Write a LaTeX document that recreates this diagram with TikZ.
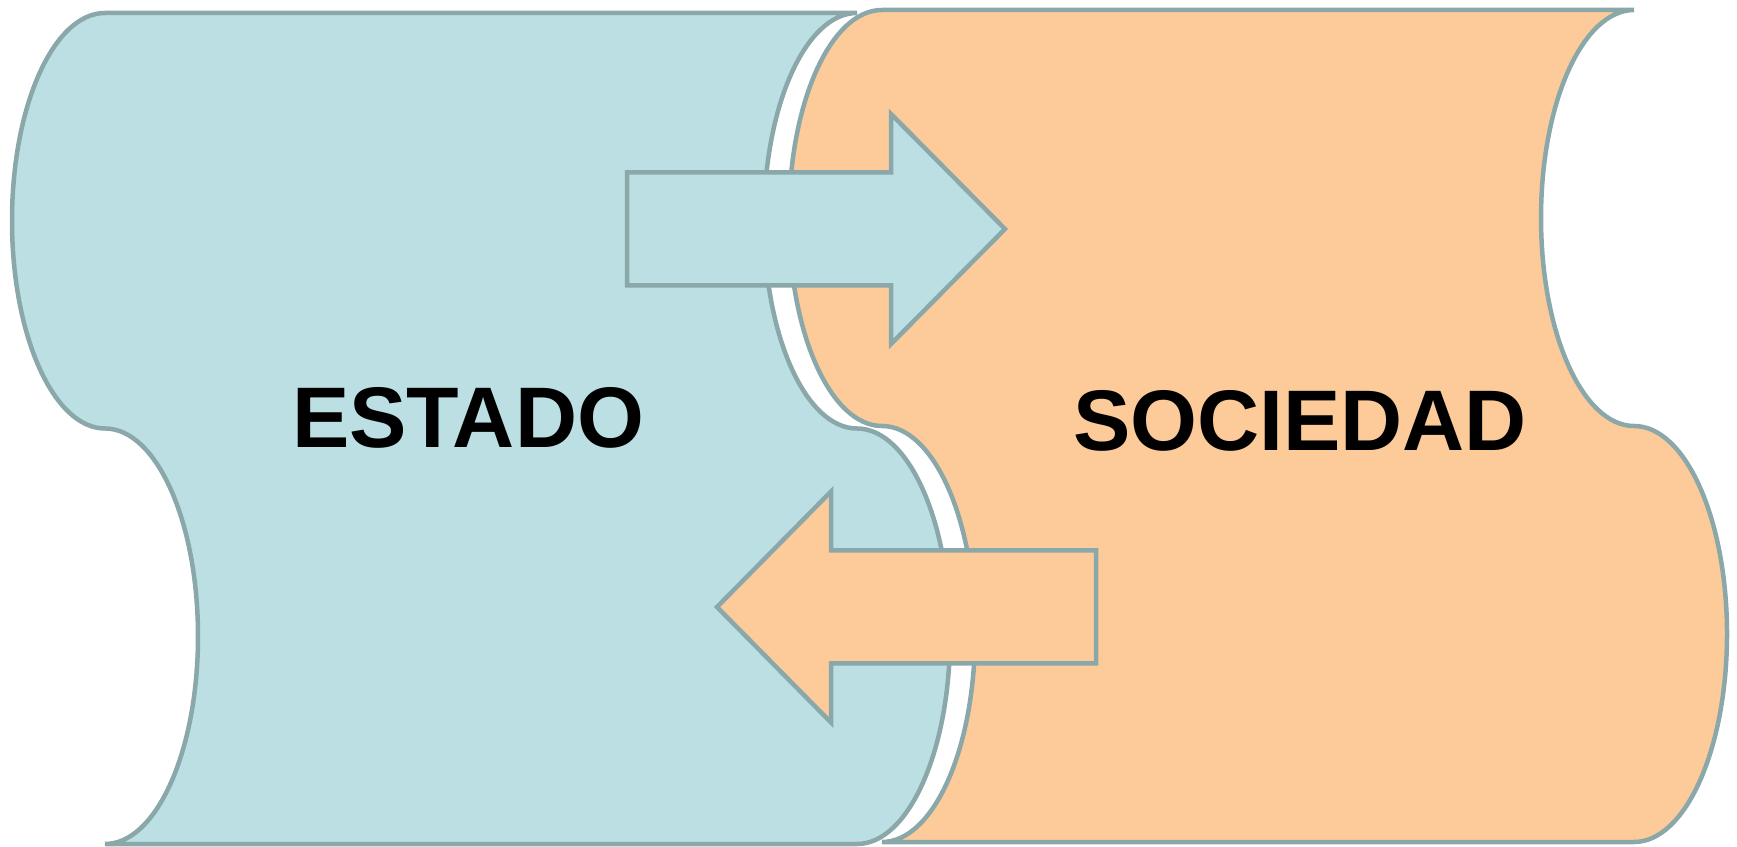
\documentclass[tikz,border=0pt]{standalone}
\usepackage{fontspec}
\setmainfont{Liberation Sans}
\definecolor{blueF}{HTML}{BBDFE2}
\definecolor{orangeF}{HTML}{FDCB99}
\definecolor{edgeC}{HTML}{8AA7A9}
\begin{document}
\begin{tikzpicture}[x=1pt,y=1pt,
  outline/.style={draw=edgeC, line width=4.5pt},
  bluebody/.style={outline, fill=blueF},
  orangebody/.style={outline, fill=orangeF},
  wave/.style={x radius=93pt, y radius=#1},
  biglabel/.style={font=\fontsize{86}{100}\selectfont\bfseries, inner sep=0pt, anchor=base}]
\useasboundingbox (0,0) rectangle (1737,846);
% ESTADO scroll
\path[bluebody] (105,833) -- (857,833)
  arc[start angle=90,end angle=270,wave=207.75pt]
  arc[start angle=90,end angle=-90,wave=207.75pt]
  -- (105,2)
  arc[start angle=-90,end angle=90,wave=207.75pt]
  arc[start angle=270,end angle=90,wave=207.75pt]
  -- cycle;
% SOCIEDAD scroll
\path[orangebody] (882,836) -- (1634,836)
  arc[start angle=90,end angle=270,wave=208pt]
  arc[start angle=90,end angle=-90,wave=208pt]
  -- (882,4)
  arc[start angle=-90,end angle=90,wave=208pt]
  arc[start angle=270,end angle=90,wave=208pt]
  -- cycle;
% arrows
\path[bluebody] (627,673.5) -- (891,673.5) -- (891,732) -- (1005,617) -- (891,502) -- (891,560.5) -- (627,560.5) -- cycle;
\path[orangebody] (1096,295.5) -- (831,295.5) -- (831,354.5) -- (717,239) -- (831,123.5) -- (831,182.5) -- (1096,182.5) -- cycle;
% labels
\node[biglabel] (estado) at (468,398) {ESTADO};
\node[biglabel] (sociedad) at (1300,395) {SOCIEDAD};
\end{tikzpicture}
\end{document}
